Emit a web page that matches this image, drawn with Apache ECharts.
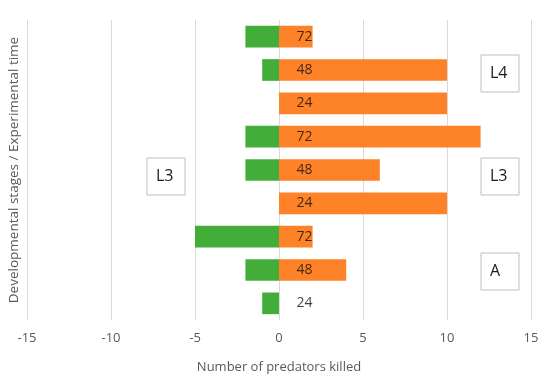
<!DOCTYPE html>
<html>
<head>
<meta charset="utf-8">
<script src="https://cdn.jsdelivr.net/npm/echarts@6/dist/echarts.min.js"></script>
<style>html,body{margin:0;padding:0;background:#fff}#c{width:550px;height:379px}</style>
</head>
<body>
<div id="c"></div>
<script>
var stages = ['L4','L4','L4','L3','L3','L3','A','A','A'];
var times = ['72','48','24','72','48','24','72','48','24'];
var greenValues = [-2, -1, 0, -2, -2, 0, -5, -2, -1];
var orangeValues = [2, 10, 10, 12, 6, 10, 2, 4, 0];
var xTicks = [-15, -10, -5, 0, 5, 10, 15];

var categories = stages.map(function (s, i) { return s + ' ' + times[i] + ' #' + i; });
var FONT = '"Open Sans", "Liberation Sans", sans-serif';
var chart = echarts.init(document.getElementById('c'), null, {renderer: 'canvas'});

function box(x, y, label) {
  return {
    type: 'group', x: x, y: y,
    children: [
      {type: 'rect', shape: {x: 0, y: 0, width: 38, height: 37},
       style: {fill: '#fff', stroke: '#bfbfbf', lineWidth: 1}},
      {type: 'text', x: 9, y: 18.5,
       style: {text: label, font: '16px ' + FONT, fill: '#1a1a1a', textVerticalAlign: 'middle', verticalAlign: 'middle'}}
    ]
  };
}

chart.setOption({
  animation: false,
  grid: {left: 27, right: 19, top: 20, bottom: 56, containLabel: false},
  xAxis: {
    type: 'value', min: xTicks[0], max: xTicks[xTicks.length - 1], interval: 5,
    name: 'Number of predators killed', nameLocation: 'middle', nameGap: 41,
    nameTextStyle: {color: '#595959', fontSize: 13, fontFamily: FONT},
    axisLine: {show: false}, axisTick: {show: false},
    axisLabel: {color: '#595959', fontSize: 13, fontFamily: FONT, margin: 12},
    splitLine: {show: true, lineStyle: {color: '#d9d9d9', width: 1}}
  },
  yAxis: {
    type: 'category', inverse: true, data: categories,
    axisLine: {show: false}, axisTick: {show: false},
    axisLabel: {show: false},
    splitLine: {show: false}
  },
  series: [
    {name: 'green', type: 'bar', stack: 'a', data: greenValues, barWidth: '65%',
     itemStyle: {color: '#43ad3a'}, z: 1},
    {name: 'orange', type: 'bar', stack: 'a', data: orangeValues, barWidth: '65%',
     itemStyle: {color: '#fe8227'}, z: 1},
    {name: 'time', type: 'scatter', symbolSize: 1, itemStyle: {color: 'rgba(0,0,0,0)'}, z: 5,
     silent: true,
     data: categories.map(function (c, i) { return [0, c]; }),
     label: {show: true, position: 'right', distance: 17,
       color: '#111111', fontSize: 14, fontFamily: FONT,
       formatter: function (p) { return times[p.dataIndex]; }}}
  ],
  graphic: [
    {type: 'text', x: 14, y: 170, rotation: Math.PI / 2,
     style: {text: 'Developmental stages / Experimental time', font: '13.5px ' + FONT, fill: '#595959',
             textAlign: 'center', textVerticalAlign: 'middle', align: 'center', verticalAlign: 'middle'}},
    box(481, 55, 'L4'),
    box(481, 158, 'L3'),
    box(147, 158, 'L3'),
    box(481, 253, 'A')
  ]
});
</script>
</body>
</html>
